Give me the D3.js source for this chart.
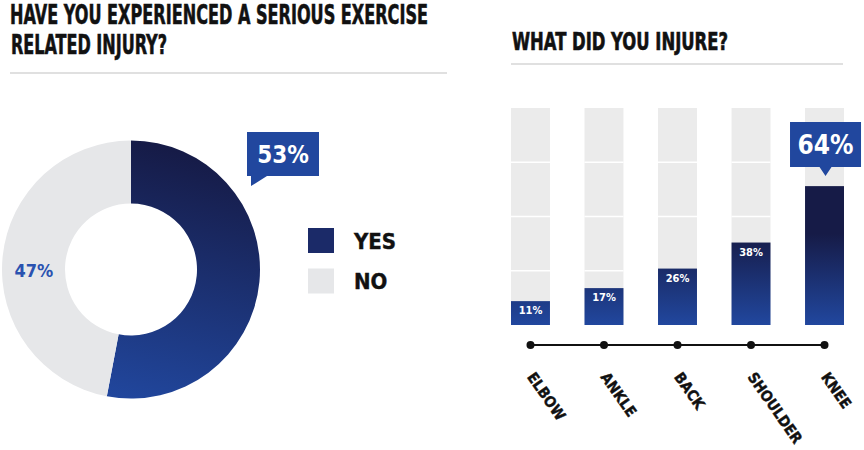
<!DOCTYPE html>
<html lang="en">
<head>
    <meta charset="utf-8">
    <title>injury.html</title>
    <script type="text/javascript" src="https://cdnjs.cloudflare.com/ajax/libs/d3/7.8.5/d3.min.js"></script>
    <style>
        body { margin: 0; background: #fff; }
        text { font-family: "Liberation Sans Narrow", "DejaVu Sans Condensed", sans-serif; font-weight: bold; }
        .title { fill: #111; stroke: #111; stroke-width: 0.6; }
    </style>
</head>
<body>
    <script type="text/javascript">
    //chart data
    var answers = ["YES", "NO"];
    var answerShares = [53, 47];

    var bodyParts = ["ELBOW", "ANKLE", "BACK", "SHOULDER", "KNEE"];
    var partShares = [11, 17, 26, 38, 64];
    var gridTicks = [25, 50, 75];

    var navy = "#161b47",
        blue = "#21479e",
        grey = "#e6e7e9";

    var svg = d3.select("body")
                .append("svg")
                .attr("width", 864)
                .attr("height", 450);

    var defs = svg.append("defs");

    //titles
    svg.append("text")
       .attr("class", "title")
       .attr("x", 10).attr("y", 24)
       .attr("font-size", 27)
       .attr("textLength", 418)
       .attr("lengthAdjust", "spacingAndGlyphs")
       .text("HAVE YOU EXPERIENCED A SERIOUS EXERCISE");
    svg.append("text")
       .attr("class", "title")
       .attr("x", 11).attr("y", 54)
       .attr("font-size", 27)
       .attr("textLength", 156)
       .attr("lengthAdjust", "spacingAndGlyphs")
       .text("RELATED INJURY?");
    svg.append("line")
       .attr("x1", 10).attr("x2", 447)
       .attr("y1", 73).attr("y2", 73)
       .attr("stroke", "#e0e0e0").attr("stroke-width", 2);

    svg.append("text")
       .attr("class", "title")
       .attr("x", 512).attr("y", 50)
       .attr("font-size", 24)
       .attr("textLength", 216)
       .attr("lengthAdjust", "spacingAndGlyphs")
       .text("WHAT DID YOU INJURE?");
    svg.append("line")
       .attr("x1", 511).attr("x2", 843)
       .attr("y1", 64).attr("y2", 64)
       .attr("stroke", "#e0e0e0").attr("stroke-width", 2);

    //donut
    var cx = 131, cy = 269.5;
    var pie = d3.pie().sort(null);
    var arc = d3.arc().innerRadius(66).outerRadius(129);
    var slices = pie(answerShares);

    //gradient for the yes slice, in the donut group's coordinates
    var donutGrad = defs.append("linearGradient")
        .attr("id", "donutGrad")
        .attr("gradientUnits", "userSpaceOnUse")
        .attr("x1", 39).attr("y1", -120)
        .attr("x2", -21).attr("y2", 130);
    donutGrad.append("stop").attr("offset", 0).attr("stop-color", navy);
    donutGrad.append("stop").attr("offset", 1).attr("stop-color", blue);

    var donut = svg.append("g")
        .attr("transform", "translate(" + cx + "," + cy + ")");

    donut.selectAll("path")
         .data(slices)
         .enter()
         .append("path")
         .attr("d", arc)
         .attr("fill", function(d, i) { return i == 0 ? "url(#donutGrad)" : grey; });

    //47% label on the grey slice
    donut.append("text")
         .attr("x", arc.centroid(slices[1])[0])
         .attr("y", 7)
         .attr("text-anchor", "middle")
         .attr("font-size", 18)
         .attr("fill", "#2a52b0")
         .text(answerShares[1] + "%");

    //callout for the yes slice
    var call = svg.append("g")
        .attr("transform", "translate(" + (cx + 116) + "," + (cy - 137.5) + ")");
    call.append("path")
        .attr("d", "M0,0H72V44H20L4,54V44H0Z")
        .attr("fill", blue);
    call.append("text")
        .attr("x", 36).attr("y", 31)
        .attr("text-anchor", "middle")
        .attr("font-size", 24)
        .attr("fill", "#fff")
        .text(answerShares[0] + "%");

    //legend
    var legend = svg.selectAll(".legend")
        .data(answers)
        .enter()
        .append("g")
        .attr("class", "legend")
        .attr("transform", function(d, i) { return "translate(308," + (228 + i * 40.5) + ")"; });
    legend.append("rect")
        .attr("width", 26).attr("height", 25)
        .attr("fill", function(d, i) { return i == 0 ? "#1b2a68" : grey; });
    legend.append("text")
        .attr("x", 46).attr("y", 20.5)
        .attr("font-size", 22)
        .attr("fill", "#111")
        .attr("stroke", "#111").attr("stroke-width", 0.4)
        .text(function(d) { return d; });

    //bar chart scales
    var xScale = d3.scaleBand()
        .domain(bodyParts)
        .range([511, 844])
        .paddingInner(0.47)
        .paddingOuter(0);
    var yScale = d3.scaleLinear()
        .domain([0, 100])
        .range([325, 108]);
    var bw = xScale.bandwidth();

    var barGrad = defs.append("linearGradient")
        .attr("id", "barGrad")
        .attr("gradientUnits", "userSpaceOnUse")
        .attr("x1", 0).attr("y1", yScale(42))
        .attr("x2", 0).attr("y2", yScale(0));
    barGrad.append("stop").attr("offset", 0).attr("stop-color", navy);
    barGrad.append("stop").attr("offset", 1).attr("stop-color", blue);

    //grey background columns
    svg.selectAll(".bg")
       .data(bodyParts)
       .enter()
       .append("rect")
       .attr("class", "bg")
       .attr("x", function(d) { return xScale(d); })
       .attr("y", yScale(100))
       .attr("width", bw)
       .attr("height", yScale(0) - yScale(100))
       .attr("fill", "#ebebeb");

    //white separators
    bodyParts.forEach(function(p) {
        svg.selectAll(null)
           .data(gridTicks)
           .enter()
           .append("line")
           .attr("x1", xScale(p)).attr("x2", xScale(p) + bw)
           .attr("y1", function(d) { return yScale(d); })
           .attr("y2", function(d) { return yScale(d); })
           .attr("stroke", "#fff")
           .attr("stroke-width", 1.5);
    });

    //value bars
    svg.selectAll(".bar")
       .data(partShares)
       .enter()
       .append("rect")
       .attr("class", "bar")
       .attr("x", function(d, i) { return xScale(bodyParts[i]); })
       .attr("y", function(d) { return yScale(d); })
       .attr("width", bw)
       .attr("height", function(d) { return yScale(0) - yScale(d); })
       .attr("fill", "url(#barGrad)");

    //small labels inside bars (not the largest one)
    var maxShare = d3.max(partShares);
    svg.selectAll(".barLabel")
       .data(partShares)
       .enter()
       .filter(function(d) { return d != maxShare; })
       .append("text")
       .attr("class", "barLabel")
       .attr("x", function(d) { return xScale(bodyParts[partShares.indexOf(d)]) + bw / 2; })
       .attr("y", function(d) { return yScale(d) + 13; })
       .attr("text-anchor", "middle")
       .attr("font-size", 11)
       .attr("fill", "#fff")
       .text(function(d) { return d + "%"; });

    //callout for the largest bar
    var maxPart = bodyParts[partShares.indexOf(maxShare)];
    var mx = xScale(maxPart) + bw / 2 + 1,
        my = yScale(maxShare);
    var call2 = svg.append("g")
        .attr("transform", "translate(" + mx + "," + my + ")");
    call2.append("path")
         .attr("d", "M-35.5,-64H35.5V-19H6L0,-10L-6,-19H-35.5Z")
         .attr("fill", blue);
    call2.append("text")
         .attr("x", 0).attr("y", -32)
         .attr("text-anchor", "middle")
         .attr("font-size", 26)
         .attr("fill", "#fff")
         .text(maxShare + "%");

    //axis line with dots
    var centers = bodyParts.map(function(p) { return xScale(p) + bw / 2; });
    svg.append("line")
       .attr("x1", centers[0]).attr("x2", centers[centers.length - 1])
       .attr("y1", 345).attr("y2", 345)
       .attr("stroke", "#111").attr("stroke-width", 2);
    svg.selectAll(".dot")
       .data(centers)
       .enter()
       .append("circle")
       .attr("class", "dot")
       .attr("cx", function(d) { return d; })
       .attr("cy", 345)
       .attr("r", 4)
       .attr("fill", "#111");

    //rotated category labels
    svg.selectAll(".cat")
       .data(bodyParts)
       .enter()
       .append("text")
       .attr("class", "cat")
       .attr("transform", function(d) {
           return "translate(" + (xScale(d) + bw / 2 - 4) + ",377) rotate(55)";
       })
       .attr("font-size", 15)
       .attr("fill", "#111")
       .attr("stroke", "#111").attr("stroke-width", 0.4)
       .text(function(d) { return d; });

    </script>
</body>
</html>
